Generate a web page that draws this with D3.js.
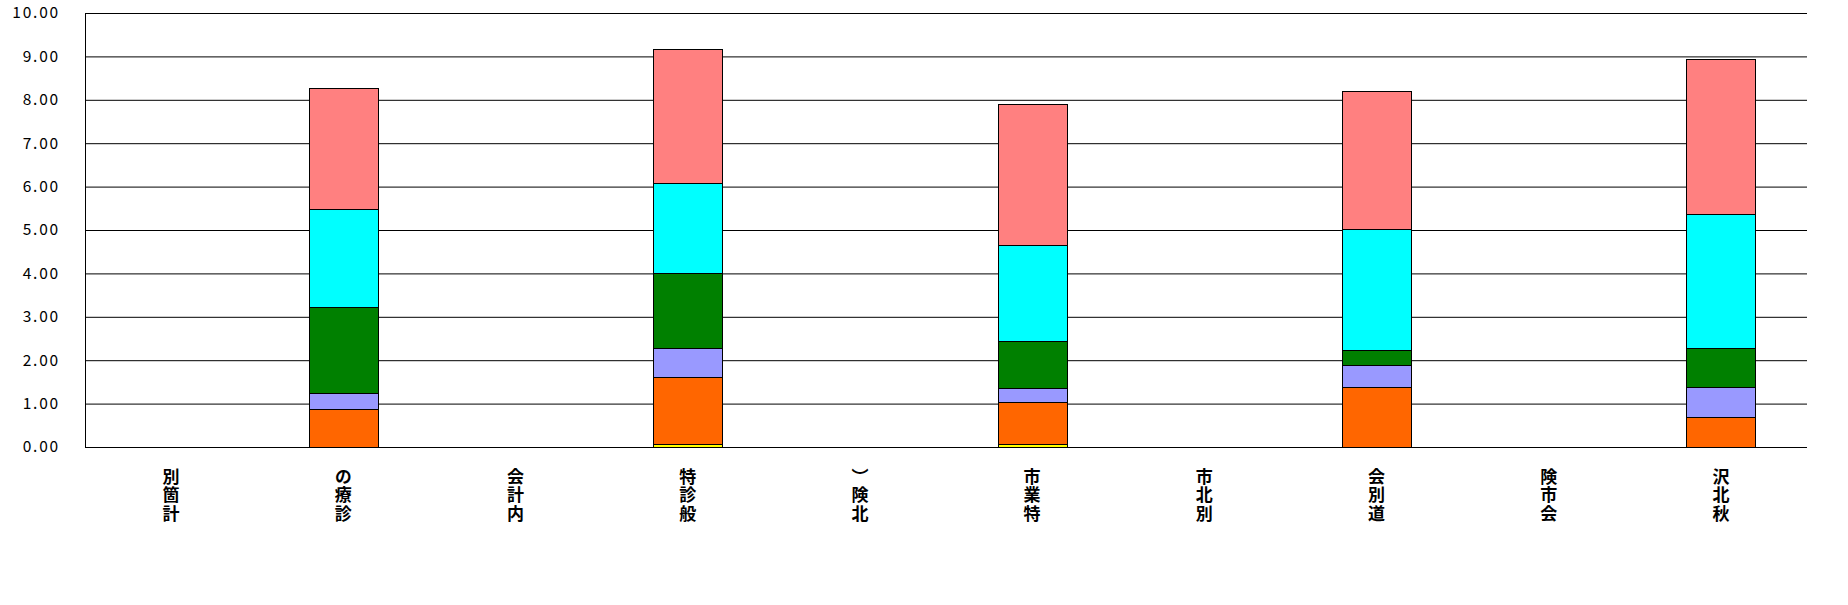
<!DOCTYPE html>
<html><head><meta charset="utf-8">
<script src="https://cdn.jsdelivr.net/npm/d3@7"></script>
<style>html,body{margin:0;padding:0;background:#fff;}svg{display:block;}</style>
</head><body>
<svg id="chart" width="1848" height="605"></svg>
<script>
const categories = ["別箇計","の療診","会計内","特診般","）険北","市業特","市北別","会別道","険市会","沢北秋"];
const seriesKeys = ["s1","s2","s3","s4","s5","s6"];
const seriesColors = ["#FFFF00","#FF6600","#9999FF","#008000","#00FFFF","#FF8080"];
const s1 = [0, 0,    0, 0.06, 0, 0.06, 0, 0,    0, 0];
const s2 = [0, 0.88, 0, 1.56, 0, 0.97, 0, 1.39, 0, 0.68];
const s3 = [0, 0.37, 0, 0.65, 0, 0.33, 0, 0.49, 0, 0.70];
const s4 = [0, 1.98, 0, 1.73, 0, 1.08, 0, 0.36, 0, 0.89];
const s5 = [0, 2.26, 0, 2.08, 0, 2.22, 0, 2.79, 0, 3.10];
const s6 = [0, 2.79, 0, 3.08, 0, 3.24, 0, 3.18, 0, 3.56];
const yTicks = [0,1,2,3,4,5,6,7,8,9,10];

const seriesValues = [s1,s2,s3,s4,s5,s6];
const rows = categories.map((c,i)=>{const r={cat:c}; seriesKeys.forEach((k,j)=>r[k]=seriesValues[j][i]); return r;});

const svg = d3.select("#chart");
const mLeft=85, mRight=1807, mTop=13, mBottom=447;
const x = d3.scaleBand().domain(categories).range([mLeft,mRight]).paddingInner(0.6).paddingOuter(0.3);
const y = d3.scaleLinear().domain([0,10]).range([mBottom,mTop]);

const yAxis = d3.axisLeft(y).tickValues(yTicks).tickFormat(d3.format(".2f"))
  .tickSize(-(mRight-mLeft)).tickSizeOuter(0).tickPadding(25);
const gy = svg.append("g").attr("transform",`translate(${mLeft},0)`).call(yAxis);
gy.selectAll("line").attr("stroke","#000");
gy.select(".domain").attr("stroke","#000");
gy.selectAll("text").attr("fill","#000").attr("font-family","'Noto Sans CJK JP', sans-serif")
  .attr("font-size","15.5px").attr("letter-spacing","1.8px");

const stack = d3.stack().keys(seriesKeys)(rows);
const color = d3.scaleOrdinal().domain(seriesKeys).range(seriesColors);
svg.append("g").selectAll("g").data(stack).join("g")
  .attr("fill",d=>color(d.key))
  .selectAll("rect").data(d=>d.filter(p=>p[1]-p[0]>0)).join("rect")
  .attr("x",d=>Math.round(x(d.data.cat))+0.5)
  .attr("width",Math.round(x.bandwidth()))
  .attr("y",d=>Math.round(y(d[1]))+0.5)
  .attr("height",d=>Math.round(y(d[0]))-Math.round(y(d[1])))
  .attr("stroke","#000").attr("stroke-width",1);

svg.append("g").selectAll("text").data(categories).join("text")
  .attr("x",d=>x(d)+x.bandwidth()/2).attr("y",468)
  .style("writing-mode","vertical-rl").style("text-orientation","upright")
  .attr("letter-spacing","1.5px")
  .attr("font-family","'Noto Sans CJK JP', sans-serif")
  .attr("font-weight","bold").attr("font-size","17px").attr("fill","#000")
  .text(d=>d);
</script>
</body></html>
